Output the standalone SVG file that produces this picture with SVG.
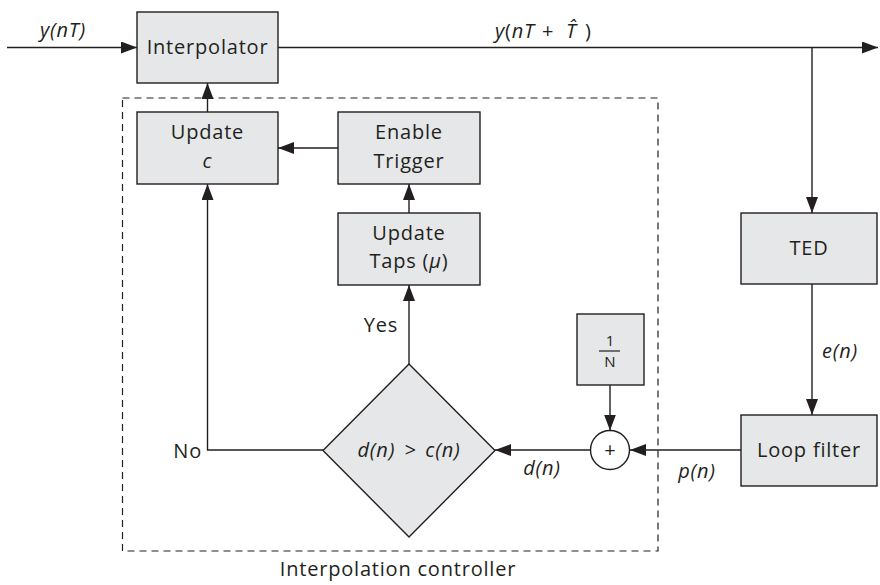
<svg xmlns="http://www.w3.org/2000/svg" width="880" height="585" viewBox="0 0 880 585">
<defs>
<marker id="ah" markerUnits="userSpaceOnUse" markerWidth="16" markerHeight="12" refX="16" refY="6" orient="auto">
<path d="M0,0 L16,6 L0,12 z" fill="#231f20"/>
</marker>
<style>
.box{fill:#e6e7e8;stroke:#231f20;stroke-width:1.4}
.ln{fill:none;stroke:#231f20;stroke-width:1.4}
.arr{fill:none;stroke:#231f20;stroke-width:1.4;marker-end:url(#ah)}
.dash{fill:none;stroke:#231f20;stroke-width:1.2;stroke-dasharray:7,5}
text{font-family:"Open Sans","Noto Sans",sans-serif;font-size:20px;letter-spacing:0.8px;fill:#231f20}
.c{text-anchor:middle}
.i{font-style:italic}
.s{font-size:15px;letter-spacing:0}
</style>
</defs>
<rect width="880" height="585" fill="#ffffff"/>
<g id="controller-frame">
<rect class="dash" x="122.5" y="98" width="535.5" height="453"/>
<text class="c" x="398" y="576">Interpolation controller</text>
</g>
<g id="connectors">
<path class="arr" d="M7,47.5 H137"/>
<path class="arr" d="M278,47.5 H878"/>
<path class="arr" d="M812,47.5 V213"/>
<path class="arr" d="M812,284 V415"/>
<path class="arr" d="M741,450 H630"/>
<path class="arr" d="M610,385 V430.5"/>
<path class="arr" d="M590.5,450 H495"/>
<path class="arr" d="M409,364 V285"/>
<path class="arr" d="M409,213 V184"/>
<path class="arr" d="M338,148 H278"/>
<path class="arr" d="M323,450 H207.5 V184"/>
<path class="arr" d="M207.5,112 V83"/>
</g>
<g id="labels">
<text class="i" x="40" y="37">y(nT)</text>
<text x="495" y="38"><tspan class="i">y</tspan>(<tspan class="i">nT</tspan><tspan x="542">+</tspan><tspan class="i" x="566">T&#x302;</tspan><tspan x="585">)</tspan></text>
<text class="i c" x="840" y="358">e(n)</text>
<text class="i c" x="697" y="478">p(n)</text>
<text class="i c" x="542" y="475">d(n)</text>
<text x="398" y="332" text-anchor="end">Yes</text>
<text x="202" y="458" text-anchor="end">No</text>
</g>
<g id="interpolator">
<rect class="box" x="137" y="12" width="141" height="71"/>
<text class="c" x="207.5" y="54">Interpolator</text>
</g>
<g id="update-c">
<rect class="box" x="137" y="112" width="141" height="72"/>
<text class="c" x="207.5" y="139">Update</text>
<text class="c i" x="207.5" y="168">c</text>
</g>
<g id="enable-trigger">
<rect class="box" x="338" y="112" width="142" height="72"/>
<text class="c" x="409" y="139">Enable</text>
<text class="c" x="409" y="168">Trigger</text>
</g>
<g id="update-taps">
<rect class="box" x="338" y="213" width="142" height="72"/>
<text class="c" x="409" y="240">Update</text>
<text class="c" x="409" y="268">Taps (<tspan class="i">μ</tspan>)</text>
</g>
<g id="decision">
<polygon class="box" points="409,364 495,450.5 409,537 323,450.5"/>
<text class="c i" x="409" y="457" style="word-spacing:3px">d(n) &gt; c(n)</text>
</g>
<g id="one-over-n">
<rect class="box" x="577" y="314" width="67" height="71"/>
<text class="c s" x="610" y="346">1</text>
<line class="ln" x1="599" y1="351" x2="620" y2="351" style="stroke-width:1.2"/>
<text class="c s" x="610" y="367">N</text>
</g>
<g id="summer">
<circle cx="610" cy="450" r="19.5" fill="#ffffff" stroke="#231f20" stroke-width="1.4"/>
<text class="c" x="610" y="457" style="letter-spacing:0">+</text>
</g>
<g id="ted">
<rect class="box" x="741" y="213" width="136" height="71"/>
<text class="c" x="809" y="255">TED</text>
</g>
<g id="loop-filter">
<rect class="box" x="741" y="415" width="136" height="71"/>
<text class="c" x="809" y="457">Loop filter</text>
</g>
</svg>
